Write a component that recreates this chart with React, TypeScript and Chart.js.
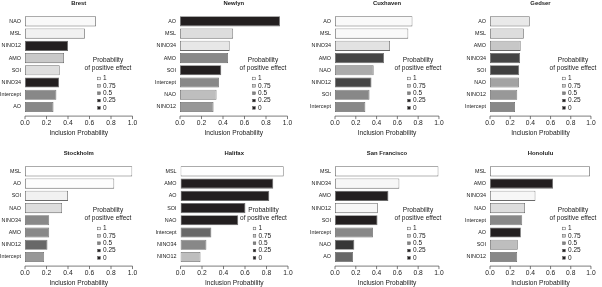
import React, { useEffect, useRef } from "react";
import { Chart, registerables } from "chart.js";

Chart.register(...registerables);

const FONT = '"Liberation Sans", Arial, Helvetica, sans-serif';

// ---- data ----
const stationNames = ["Brest", "Newlyn", "Cuxhaven", "Gedser", "Stockholm", "Halifax", "San Francisco", "Honolulu"];

const brestLabels = ["NAO", "MSL", "NINO12", "AMO", "SOI", "NINO34", "Intercept", "AO"];
const brestInclusion = [0.66, 0.557, 0.4, 0.363, 0.323, 0.317, 0.292, 0.265];
const brestPositive = [0.97, 0.93, 0.05, 0.74, 0.84, 0.05, 0.5, 0.5];

const newlynLabels = ["AO", "MSL", "NINO34", "AMO", "SOI", "Intercept", "NAO", "NINO12"];
const newlynInclusion = [0.93, 0.494, 0.462, 0.447, 0.384, 0.362, 0.34, 0.312];
const newlynPositive = [0.05, 0.835, 0.88, 0.5, 0.05, 0.5, 0.7, 0.56];

const cuxhavenLabels = ["AO", "MSL", "NINO34", "AMO", "NAO", "NINO12", "SOI", "Intercept"];
const cuxhavenInclusion = [0.745, 0.705, 0.529, 0.471, 0.372, 0.351, 0.332, 0.292];
const cuxhavenPositive = [0.97, 0.97, 0.86, 0.335, 0.63, 0.335, 0.5, 0.5];

const gedserLabels = ["AO", "MSL", "AMO", "NINO34", "SOI", "NAO", "NINO12", "Intercept"];
const gedserInclusion = [0.394, 0.335, 0.304, 0.298, 0.289, 0.286, 0.27, 0.248];
const gedserPositive = [0.89, 0.835, 0.73, 0.335, 0.32, 0.6, 0.56, 0.5];

const stockholmLabels = ["MSL", "AO", "SOI", "NAO", "NINO34", "AMO", "NINO12", "Intercept"];
const stockholmInclusion = [0.998, 0.83, 0.4, 0.345, 0.225, 0.225, 0.209, 0.178];
const stockholmPositive = [1.0, 0.99, 0.93, 0.835, 0.5, 0.5, 0.42, 0.56];

const halifaxLabels = ["MSL", "AMO", "AO", "SOI", "NAO", "Intercept", "NINO34", "NINO12"];
const halifaxInclusion = [0.96, 0.863, 0.826, 0.604, 0.537, 0.287, 0.241, 0.186];
const halifaxPositive = [1.0, 0.0, 0.0, 0.0, 0.0, 0.42, 0.5, 0.7];

const sanFranciscoLabels = ["MSL", "NINO34", "AMO", "NINO12", "SOI", "Intercept", "NAO", "AO"];
const sanFranciscoInclusion = [0.995, 0.619, 0.514, 0.412, 0.409, 0.365, 0.186, 0.173];
const sanFranciscoPositive = [1.0, 0.96, 0.05, 0.96, 0.05, 0.5, 0.3, 0.42];

const honoluluLabels = ["MSL", "AMO", "NINO34", "NAO", "Intercept", "AO", "SOI", "NINO12"];
const honoluluInclusion = [0.99, 0.625, 0.45, 0.347, 0.319, 0.306, 0.275, 0.269];
const honoluluPositive = [1.0, 0.0, 0.96, 0.835, 0.5, 0.05, 0.7, 0.5];

const xTickValues = [0, 0.2, 0.4, 0.6, 0.8, 1.0];
const xAxisTitle = "Inclusion Probability";
const legendTitle = ["Probability", "of positive effect"];
const legendKeys = [1, 0.75, 0.5, 0.25, 0];
const legendLabels = ["1", "0.75", "0.5", "0.25", "0"];

const panelLabels = [brestLabels, newlynLabels, cuxhavenLabels, gedserLabels, stockholmLabels, halifaxLabels, sanFranciscoLabels, honoluluLabels];
const panelInclusion = [brestInclusion, newlynInclusion, cuxhavenInclusion, gedserInclusion, stockholmInclusion, halifaxInclusion, sanFranciscoInclusion, honoluluInclusion];
const panelPositive = [brestPositive, newlynPositive, cuxhavenPositive, gedserPositive, stockholmPositive, halifaxPositive, sanFranciscoPositive, honoluluPositive];

// ---- layout ----
const colLeft = [0, 150, 300, 450];
const colWidth = [150, 150, 150, 152];
const rowTop = [-7, 143];
const CANVAS_H = 150;
const plotLeftTop = [25, 30, 35, 40];
const plotLeftBottom = [25, 30.5, 35, 40];
const PLOT_W = 107.5;
const PLOT_TOP = 22.2;
const PLOT_BOTTOM = 120.1;

function fillFor(p: number): string {
  if (p <= 0.25) return "#231f20";
  const stops: [number, number][] = [
    [0.25, 35],
    [0.5, 136],
    [0.75, 204],
    [1, 255],
  ];
  for (let i = 0; i < stops.length - 1; i++) {
    const [p0, g0] = stops[i];
    const [p1, g1] = stops[i + 1];
    if (p <= p1) {
      const g = Math.round(g0 + ((p - p0) / (p1 - p0)) * (g1 - g0));
      return `rgb(${g},${g},${g})`;
    }
  }
  return "rgb(255,255,255)";
}

const decorPlugin = {
  id: "panelDecor",
  afterDraw(chart: any) {
    const { ctx, chartArea } = chart;
    const xs = chart.scales.x;
    ctx.save();
    // R-style x axis line offset below the plot
    const y0 = chartArea.bottom + 3;
    ctx.strokeStyle = "#444";
    ctx.lineWidth = 0.7;
    ctx.beginPath();
    ctx.moveTo(xs.getPixelForValue(xTickValues[0]), y0);
    ctx.lineTo(xs.getPixelForValue(xTickValues[xTickValues.length - 1]), y0);
    for (const v of xTickValues) {
      const px = xs.getPixelForValue(v);
      ctx.moveTo(px, y0);
      ctx.lineTo(px, y0 + 3);
    }
    ctx.stroke();

    // legend
    const L = chartArea.left;
    const T = chartArea.top;
    ctx.font = `6.5px ${FONT}`;
    ctx.fillStyle = "#1a1a1a";
    ctx.textAlign = "center";
    ctx.textBaseline = "middle";
    ctx.fillText(legendTitle[0], L + 83, T + 45);
    ctx.fillText(legendTitle[1], L + 83, T + 53.3);
    legendKeys.forEach((k, i) => {
      const y = T + 63.3 + i * 7.35;
      const s = 2.6;
      ctx.fillStyle = fillFor(k);
      ctx.fillRect(L + 74 - s / 2, y - s / 2, s, s);
      ctx.strokeStyle = "#555";
      ctx.lineWidth = 0.5;
      ctx.strokeRect(L + 74 - s / 2, y - s / 2, s, s);
      ctx.fillStyle = "#1a1a1a";
      ctx.textAlign = "left";
      ctx.fillText(legendLabels[i], L + 78, y);
    });
    ctx.restore();
  },
};

function Panel({ index }: { index: number }) {
  const ref = useRef<HTMLCanvasElement | null>(null);
  const row = index < 4 ? 0 : 1;
  const col = index % 4;
  const W = colWidth[col];
  const plotLeft = row === 0 ? plotLeftTop[col] : plotLeftBottom[col];

  useEffect(() => {
    if (!ref.current) return;
    const labels = panelLabels[index];
    const values = panelInclusion[index];
    const pos = panelPositive[index];
    const titleLH = 5.9 * 1.2;
    const chart = new Chart(ref.current, {
      type: "bar",
      data: {
        labels,
        datasets: [
          {
            data: values,
            backgroundColor: pos.map(fillFor),
            borderColor: "#6a6a6a",
            borderWidth: 0.8,
            borderSkipped: false,
            categoryPercentage: 1,
            barPercentage: 1 / 1.2,
          },
        ],
      },
      options: {
        indexAxis: "y",
        animation: false,
        responsive: false,
        devicePixelRatio: 1,
        events: [],
        layout: {
          padding: { left: 0, top: 0, bottom: 0, right: W - plotLeft - PLOT_W },
        },
        plugins: {
          legend: { display: false },
          tooltip: { enabled: false },
          title: {
            display: true,
            text: stationNames[index],
            fullSize: false,
            color: "#1a1a1a",
            font: { family: FONT, size: 5.9, weight: "bold", lineHeight: 1.2 },
            padding: { top: 10 - titleLH / 2, bottom: PLOT_TOP - (10 - titleLH / 2) - titleLH },
          },
        },
        scales: {
          x: {
            type: "linear",
            min: 0,
            max: 1,
            grid: { display: false, drawTicks: false },
            border: { display: false },
            afterBuildTicks: (scale: any) => {
              scale.ticks = xTickValues.map((v) => ({ value: v }));
            },
            afterFit: (scale: any) => {
              scale.height = CANVAS_H - PLOT_BOTTOM;
            },
            ticks: {
              padding: 6.4,
              color: "#1a1a1a",
              font: { family: FONT, size: 6.7 },
              maxRotation: 0,
              autoSkip: false,
              callback: (v: any) => Number(v).toFixed(1),
            },
            title: {
              display: true,
              text: xAxisTitle,
              color: "#1a1a1a",
              font: { family: FONT, size: 6.6, lineHeight: 1.2 },
              padding: { top: 0, bottom: 6.04 },
            },
          },
          y: {
            type: "category",
            grid: { display: false, drawTicks: false },
            border: { display: false },
            afterFit: (scale: any) => {
              scale.width = plotLeft;
            },
            ticks: {
              padding: 4,
              color: "#1a1a1a",
              font: { family: FONT, size: 5.4 },
              autoSkip: false,
            },
          },
        },
      },
      plugins: [decorPlugin],
    } as any);
    return () => chart.destroy();
  }, [index, W, plotLeft]);

  return (
    <canvas
      ref={ref}
      width={W}
      height={CANVAS_H}
      style={{
        position: "absolute",
        left: colLeft[col],
        top: rowTop[row],
        width: W,
        height: CANVAS_H,
        display: "block",
      }}
    />
  );
}

export default function App() {
  return (
    <div
      style={{
        position: "fixed",
        left: 0,
        top: 0,
        width: 602,
        height: 287,
        overflow: "hidden",
        background: "#ffffff",
      }}
    >
      {stationNames.map((_, i) => (
        <Panel key={i} index={i} />
      ))}
    </div>
  );
}
